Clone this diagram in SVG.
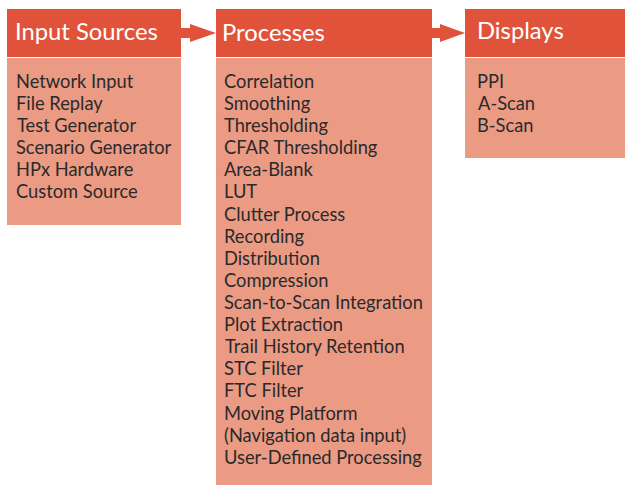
<svg xmlns="http://www.w3.org/2000/svg" width="625" height="486" viewBox="0 0 625 486">
<style>
.hd{fill:#E0533A}
.bd{fill:#EB9A84}
.ht{font-family:Lato,"Liberation Sans",sans-serif;font-size:23.8px;fill:#ffffff}
.bt{font-family:Lato,"Liberation Sans",sans-serif;font-size:18.3px;fill:#2a2a2a}
.ar{fill:#E0533A}
</style>
<rect width="625" height="486" fill="#ffffff"/>
<g id="input">
<rect class="hd" x="7" y="9" width="174" height="48"/>
<rect class="bd" x="7" y="58" width="174" height="167"/>
<text class="ht" x="15" y="40">Input Sources</text>
<text class="bt" x="16"><tspan x="16" y="88">Network Input</tspan><tspan x="16" y="110">File Replay</tspan><tspan x="17" y="132">Test Generator</tspan><tspan x="16" y="154">Scenario Generator</tspan><tspan x="16" y="176">HPx Hardware</tspan><tspan x="16" y="198">Custom Source</tspan></text>
</g>
<g id="processes">
<rect class="hd" x="216" y="9" width="216" height="48"/>
<rect class="bd" x="216" y="58" width="216" height="427"/>
<text class="ht" x="222" y="41">Processes</text>
<text class="bt"><tspan x="224" y="88">Correlation</tspan><tspan x="224" y="110">Smoothing</tspan><tspan x="224" y="132">Thresholding</tspan><tspan x="224" y="154">CFAR Thresholding</tspan><tspan x="224" y="176">Area-Blank</tspan><tspan x="224" y="198">LUT</tspan><tspan x="224" y="221">Clutter Process</tspan><tspan x="224" y="243">Recording</tspan><tspan x="224" y="265">Distribution</tspan><tspan x="224" y="287">Compression</tspan><tspan x="224" y="309">Scan-to-Scan Integration</tspan><tspan x="224" y="331">Plot Extraction</tspan><tspan x="225" y="353">Trail History Retention</tspan><tspan x="224" y="375">STC Filter</tspan><tspan x="224" y="397">FTC Filter</tspan><tspan x="224" y="420">Moving Platform</tspan><tspan x="224" y="442">(Navigation data input)</tspan><tspan x="224" y="464">User-Defined Processing</tspan></text>
</g>
<g id="displays">
<rect class="hd" x="465" y="9" width="160" height="48"/>
<rect class="bd" x="465" y="58" width="160" height="100"/>
<text class="ht" x="477" y="39">Displays</text>
<text class="bt"><tspan x="477" y="88">PPI</tspan><tspan x="478" y="110">A-Scan</tspan><tspan x="477" y="132">B-Scan</tspan></text>
</g>
<g id="connectors">
<polygon class="ar" points="181,28 190,28 190,24 216,33 190,42 190,38 181,38"/>
<polygon class="ar" points="432,28 440,28 440,24 465,33 440,42 440,38 432,38"/>
</g>
</svg>
